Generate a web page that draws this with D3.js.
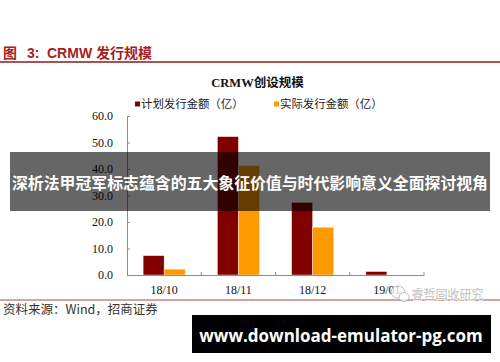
<!DOCTYPE html>
<html>
<head>
<meta charset="utf-8">
<script src="https://cdn.jsdelivr.net/npm/d3@7"></script>
<style>
  body { margin: 0; background: #fff; }
  svg { display: block; }
</style>
</head>
<body>
<svg id="chart" width="500" height="362"></svg>
<script>
const categories = ["18/10", "18/11", "18/12", "19/01"];
const planned = [7.3, 52.2, 27.4, 1.3];
const actual = [2.2, 41.2, 18.0, 0];
const seriesNames = ["计划发行金额（亿）", "实际发行金额（亿）"];
const seriesColors = ["#800000", "#ff9900"];
const yTicks = [0, 10, 20, 30, 40, 50, 60];

const svg = d3.select("#chart");
const cjk = "'Noto Sans CJK SC', sans-serif";
const serif = "'Liberation Serif', 'Times New Roman', serif";

// header
const head = svg.append("text")
  .attr("x", 3).attr("y", 57.5)
  .attr("fill", "#a51e22")
  .style("font-family", "'Liberation Sans', Arial, " + cjk)
  .style("font-size", "14px").style("font-weight", "bold");
head.append("tspan").text("图");
head.append("tspan").attr("x", 27).text("3:");
head.append("tspan").attr("x", 47).text("CRMW 发行规模");

svg.append("line")
  .attr("x1", 0).attr("x2", 500).attr("y1", 62).attr("y2", 62)
  .attr("stroke", "#8b1a1a").attr("stroke-width", 1.5);

// chart title
svg.append("text")
  .attr("x", 257.5).attr("y", 87)
  .attr("text-anchor", "middle")
  .style("font-family", serif + ", " + cjk)
  .style("font-size", "12.5px").style("font-weight", "bold")
  .attr("fill", "#111")
  .text("CRMW创设规模");

// legend
const legendX = [135, 274];
seriesNames.forEach((name, i) => {
  const g = svg.append("g").attr("transform", `translate(${legendX[i]},0)`);
  g.append("rect")
    .attr("x", 0).attr("y", 101.5).attr("width", 5).attr("height", 5)
    .attr("fill", seriesColors[i]);
  g.append("text")
    .attr("x", 6).attr("y", 107.5)
    .style("font-family", cjk).style("font-size", "11.4px")
    .attr("fill", "#222")
    .text(name);
});

// scales
const x = d3.scaleBand()
  .domain(categories)
  .range([127, 424])
  .padding(0);

const xSub = d3.scaleBand()
  .domain([0, 1])
  .range([0, x.bandwidth()])
  .paddingInner(0)
  .paddingOuter(0.768);

const y = d3.scaleLinear()
  .domain([0, 60])
  .range([275, 116]);

// bars
const rows = categories.map((c, i) => ({ c, vals: [planned[i], actual[i]] }));
svg.append("g").selectAll("g")
  .data(rows)
  .join("g")
  .attr("transform", d => `translate(${x(d.c)},0)`)
  .selectAll("rect")
  .data(d => d.vals.map((v, k) => ({ k, v })))
  .join("rect")
  .attr("x", d => xSub(d.k))
  .attr("width", xSub.bandwidth())
  .attr("y", d => y(d.v))
  .attr("height", d => y(0) - y(d.v))
  .attr("fill", d => seriesColors[d.k])
  .attr("stroke", "#fbe3d8").attr("stroke-width", 0.5);

// y axis
const yAxis = svg.append("g")
  .attr("transform", "translate(127,0)")
  .call(d3.axisLeft(y).tickValues(yTicks).tickFormat(d3.format(".1f"))
    .tickSizeInner(-3).tickSizeOuter(0).tickPadding(14));
yAxis.selectAll("path, line").attr("stroke", "#8c8c8c");
yAxis.selectAll("text")
  .style("font-family", serif).style("font-size", "12px").attr("fill", "#111");

// x axis
const xAxis = svg.append("g")
  .attr("transform", `translate(0,${y(0)})`)
  .call(d3.axisBottom(x).tickSize(0).tickPadding(10.5));
xAxis.select(".domain").attr("stroke", "#8c8c8c");
xAxis.selectAll("text")
  .style("font-family", serif).style("font-size", "12px").attr("fill", "#111");

svg.append("g").selectAll("line")
  .data(categories)
  .join("line")
  .attr("x1", d => x(d) + x.bandwidth()).attr("x2", d => x(d) + x.bandwidth())
  .attr("y1", y(0)).attr("y2", y(0) - 3)
  .attr("stroke", "#8c8c8c");

// footer
svg.append("line")
  .attr("x1", 0).attr("x2", 500).attr("y1", 300).attr("y2", 300)
  .attr("stroke", "#a84444").attr("stroke-width", 1);

svg.append("text")
  .attr("x", 3).attr("y", 313.5)
  .style("font-family", cjk).style("font-size", "12.5px")
  .attr("fill", "#333")
  .text("资料来源：Wind，招商证券");

// watermark
const wm = svg.append("g").attr("opacity", 0.75);
wm.append("ellipse")
  .attr("cx", 398).attr("cy", 292).attr("rx", 7).attr("ry", 6)
  .attr("fill", "#fff").attr("stroke", "#aaa").attr("stroke-width", 1);
wm.append("ellipse")
  .attr("cx", 404).attr("cy", 297).attr("rx", 5).attr("ry", 4.5)
  .attr("fill", "#fff").attr("stroke", "#aaa").attr("stroke-width", 1);
wm.append("text")
  .attr("x", 411.5).attr("y", 298.5)
  .style("font-family", cjk).style("font-size", "12px")
  .attr("fill", "#aaa")
  .attr("stroke", "#fff").attr("stroke-width", 2).attr("paint-order", "stroke")
  .text("睿哲固收研究");

// overlay banner
svg.append("rect")
  .attr("x", 10).attr("y", 152).attr("width", 480).attr("height", 59)
  .attr("fill", "#000").attr("fill-opacity", 0.6);
svg.append("text")
  .attr("x", 12).attr("y", 189)
  .attr("textLength", 476).attr("lengthAdjust", "spacingAndGlyphs")
  .style("font-family", cjk).style("font-size", "16px").style("font-weight", "bold")
  .attr("fill", "#fff")
  .text("深析法甲冠军标志蕴含的五大象征价值与时代影响意义全面探讨视角");

// url banner
svg.append("rect")
  .attr("x", 192).attr("y", 315).attr("width", 299).attr("height", 38)
  .attr("fill", "#000");
svg.append("text")
  .attr("x", 341).attr("y", 342)
  .attr("text-anchor", "middle")
  .style("font-family", "'Open Sans', 'DejaVu Sans', sans-serif")
  .style("font-size", "17px").style("font-weight", "bold")
  .attr("fill", "#fff")
  .text("www.download-emulator-pg.com");
</script>
</body>
</html>
